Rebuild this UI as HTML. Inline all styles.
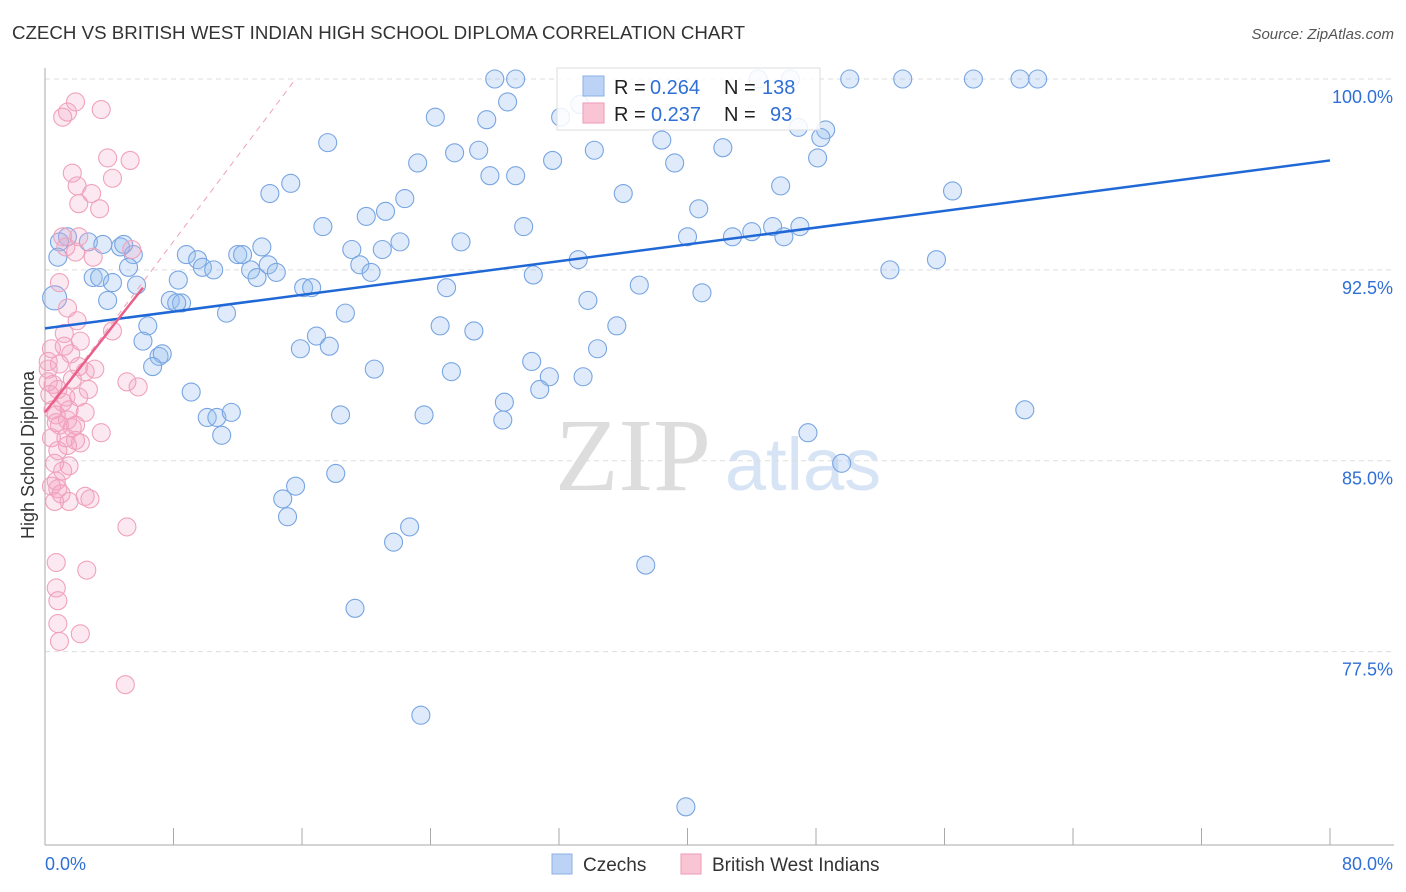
<!DOCTYPE html>
<html><head><meta charset="utf-8"><style>
body{margin:0;background:#fff;font-family:"Liberation Sans",sans-serif;}
#wrap{position:relative;width:1406px;height:892px;overflow:hidden;}
</style></head><body>
<div id="wrap">
<svg id="svg" width="1406" height="892" xmlns="http://www.w3.org/2000/svg">
<text x="12" y="39" font-size="18" fill="#333" textLength="733" lengthAdjust="spacingAndGlyphs">CZECH VS BRITISH WEST INDIAN HIGH SCHOOL DIPLOMA CORRELATION CHART</text>
<text x="1394" y="39" font-size="15" fill="#555" font-style="italic" text-anchor="end">Source: ZipAtlas.com</text>
<text x="34" y="455" font-size="18" fill="#333" text-anchor="middle" transform="rotate(-90 34 455)">High School Diploma</text>
<g><text x="633" y="490" font-size="104" fill="#ddd" font-family="Liberation Serif,serif" text-anchor="middle">ZIP</text><text x="803" y="490" font-size="74" fill="#d7e4f5" text-anchor="middle">atlas</text></g>
<g id="grid"></g><g id="axes"></g><g id="pts"></g><g id="lines"></g>
<g>
<rect x="557" y="68" width="263" height="62" fill="#fff" fill-opacity="0.85" stroke="#ddd"/>
<rect x="583" y="76" width="21" height="20" fill="#bcd3f5" stroke="#8ab0e8"/>
<rect x="583" y="103" width="21" height="20" fill="#f9c5d5" stroke="#ee9ab5"/>
<text y="94" font-size="20" fill="#222"><tspan x="614">R = </tspan><tspan x="650" fill="#2f6fd6">0.264</tspan><tspan x="724">N = </tspan><tspan x="762" fill="#2f6fd6">138</tspan></text>
<text y="121" font-size="20" fill="#222"><tspan x="614">R = </tspan><tspan x="651" fill="#2f6fd6">0.237</tspan><tspan x="724">N = </tspan><tspan x="770" fill="#2f6fd6">93</tspan></text>
</g>
<g>
<rect x="552" y="854" width="20" height="20" fill="#bcd3f5" stroke="#8ab0e8"/>
<text x="583" y="871" font-size="19" fill="#333">Czechs</text>
<rect x="681" y="854" width="20" height="20" fill="#f9c5d5" stroke="#ee9ab5"/>
<text x="712" y="871" font-size="19" fill="#333">British West Indians</text>
</g>
</svg>
</div>
<script>
const blueX=[28.0,29.3,50.1,53.4,57.8,60.7,61.8,44.4,46.4,28.8,24.3,27.5,32.1,33.3,46.9,48.6,48.3,38.4,17.6,27.0,25.5,34.2,42.2,23.2,31.6,48.1,39.2,27.7,29.3,15.3,14.0,36.0,45.8,56.5,22.4,40.7,21.2,20.0,17.3,29.8,45.3,47.0,44.0,40.0,42.8,46.0,22.1,25.9,19.1,21.0,1.4,0.9,2.7,3.6,4.7,5.5,4.9,0.8,8.8,9.5,12.0,12.3,13.5,13.9,33.2,52.6,55.5,5.2,3.0,3.4,4.2,5.7,8.3,9.8,10.5,12.8,13.2,14.4,19.6,20.3,30.4,16.1,16.6,25.0,37.0,40.9,3.9,0.6,7.8,8.5,8.2,33.8,11.3,18.7,6.4,35.6,24.6,26.7,16.9,6.1,15.9,17.7,34.4,7.1,7.3,6.7,30.3,20.5,25.3,31.4,33.5,30.8,9.1,28.6,10.1,10.7,11.6,18.4,23.6,28.5,11.0,47.5,49.6,61.0,18.1,15.6,14.8,15.1,22.7,21.7,37.4,19.3,23.4,39.9];
const blueY=[100,100,100,100,100,100,100,100,100,99.1,98.5,98.4,98.5,99.0,98.1,98.0,97.7,97.6,97.5,97.2,97.1,97.2,97.3,96.7,96.8,96.9,96.7,96.2,96.2,95.9,95.5,95.5,95.8,95.6,95.3,94.9,94.8,94.6,94.2,94.2,94.2,94.2,94.0,93.8,93.8,93.8,93.6,93.6,93.3,93.3,93.8,93.6,93.6,93.5,93.4,93.1,93.5,93.0,93.1,92.9,93.1,93.1,93.4,92.7,92.9,92.5,92.9,92.6,92.2,92.2,92.0,91.9,92.1,92.6,92.5,92.5,92.2,92.4,92.7,92.4,92.3,91.8,91.8,91.8,91.9,91.6,91.3,91.4,91.3,91.2,91.2,91.3,90.8,90.8,90.3,90.3,90.3,90.1,89.9,89.7,89.4,89.5,89.4,89.1,89.2,88.7,88.9,88.6,88.5,88.3,88.3,87.8,87.7,87.3,86.7,86.7,86.9,86.8,86.8,86.6,86.0,86.1,84.9,87.0,84.5,84.0,83.5,82.8,82.4,81.8,80.9,79.2,75.0,71.4];
const pinkX=[1.9,3.5,1.4,1.1,3.9,5.3,1.7,4.2,2.0,2.9,2.1,3.4,1.1,2.1,1.3,1.9,3.0,5.4,0.9,1.4,2.0,4.2,2.2,0.4,1.2,1.6,0.2,0.9,2.5,3.1,2.1,1.7,5.1,5.8,0.2,0.5,0.8,1.3,2.1,1.1,0.5,1.5,2.5,0.7,1.4,1.7,0.9,1.3,1.9,0.4,1.4,3.5,2.2,0.8,1.5,0.6,1.1,0.7,0.8,0.4,1.0,1.5,0.6,2.5,2.8,5.1,0.7,0.7,2.6,0.8,0.8,0.9,2.2,5.0,0.2,0.3,0.7,1.9,2.7,1.2];
const pinkY=[99.1,98.8,98.7,98.5,96.9,96.8,96.3,96.1,95.8,95.5,95.1,94.9,93.8,93.8,93.4,93.2,93.0,93.3,92.0,91.0,90.5,90.1,89.7,89.4,89.5,89.2,88.9,88.8,88.5,88.6,88.7,88.2,88.1,87.9,88.1,88.0,87.8,87.5,87.5,87.3,87.0,87.0,86.9,86.8,86.6,86.3,86.4,85.9,85.8,85.9,85.6,86.1,85.7,85.4,84.8,84.9,84.6,84.2,83.9,84.0,83.7,83.4,83.4,83.6,83.5,82.4,81.0,80.0,80.7,79.5,78.6,77.9,78.2,76.2,88.6,87.6,86.5,86.4,87.8,90.0];
const blueTrend=[[0,90.2],[80,96.8]];
const pinkTrend=[[0,86.9],[6.1,91.8]];
const pinkDash=[[0,86.9],[15.6,100]];
const yTicks=[100,92.5,85,77.5];
const yTickLabels=["100.0%","92.5%","85.0%","77.5%"];
const xMin=0,xMax=80,yMin=69.9,yMax=100;
const X0=45,X1=1330,Y0=845,Y1=79;
const sx=v=>X0+(v-xMin)/(xMax-xMin)*(X1-X0);
const sy=v=>Y0-(v-yMin)/(yMax-yMin)*(Y0-Y1);
const NS="http://www.w3.org/2000/svg";
function mk(tag,attrs,parent){const e=document.createElementNS(NS,tag);for(const k in attrs)e.setAttribute(k,attrs[k]);document.getElementById(parent).appendChild(e);return e;}
yTicks.forEach((t,i)=>{
 const g=mk('line',{x1:X0,x2:1394,y1:sy(t),y2:sy(t),stroke:'#ddd','stroke-dasharray':'5,4'},'grid');
 
 
 const l=mk('text',{x:1393,y:sy(t)+24,'font-size':18,fill:'#2f6fd6','text-anchor':'end'},'grid');
 l.textContent=yTickLabels[i];
 
 
});
const ya=mk('line',{x1:X0,x2:X0,y1:68,y2:Y0,stroke:'#aaa'},'axes');


const xa=mk('line',{x1:X0,x2:1394,y1:Y0,y2:Y0,stroke:'#aaa'},'axes');


for(let i=0;i<=10;i++){const x=sx(i*8);const t=mk('line',{x1:x,x2:x,y1:828,y2:Y0,stroke:'#aaa'},'axes');
 
 }
const xl0=mk('text',{x:45,y:870,'font-size':18,fill:'#2f6fd6'},'axes');xl0.textContent='0.0%';


const xl1=mk('text',{x:1393,y:870,'font-size':18,fill:'#2f6fd6','text-anchor':'end'},'axes');xl1.textContent='80.0%';


blueX.forEach((v,i)=>{const c=mk('circle',{cx:sx(v),cy:sy(blueY[i]),r:(i==87?12:9),fill:'rgba(150,188,238,0.3)',stroke:'#78a5e2','stroke-width':1.1},'pts');
 
 });
pinkX.forEach((v,i)=>{const c=mk('circle',{cx:sx(v),cy:sy(pinkY[i]),r:9,fill:'rgba(245,165,195,0.25)',stroke:'#f0a2bb','stroke-width':1.1},'pts');
 
 });
const pd=mk('line',{x1:sx(pinkDash[0][0]),y1:sy(pinkDash[0][1]),x2:sx(pinkDash[1][0]),y2:sy(pinkDash[1][1]),stroke:'#f0a0b8','stroke-dasharray':'6,5','stroke-width':1},'lines');


const bl=mk('line',{x1:sx(blueTrend[0][0]),y1:sy(blueTrend[0][1]),x2:sx(blueTrend[1][0]),y2:sy(blueTrend[1][1]),stroke:'#1f68d6','stroke-width':2.5},'lines');


const pl=mk('line',{x1:sx(pinkTrend[0][0]),y1:sy(pinkTrend[0][1]),x2:sx(pinkTrend[1][0]),y2:sy(pinkTrend[1][1]),stroke:'#e8608a','stroke-width':2.5},'lines');


</script>
</body></html>
